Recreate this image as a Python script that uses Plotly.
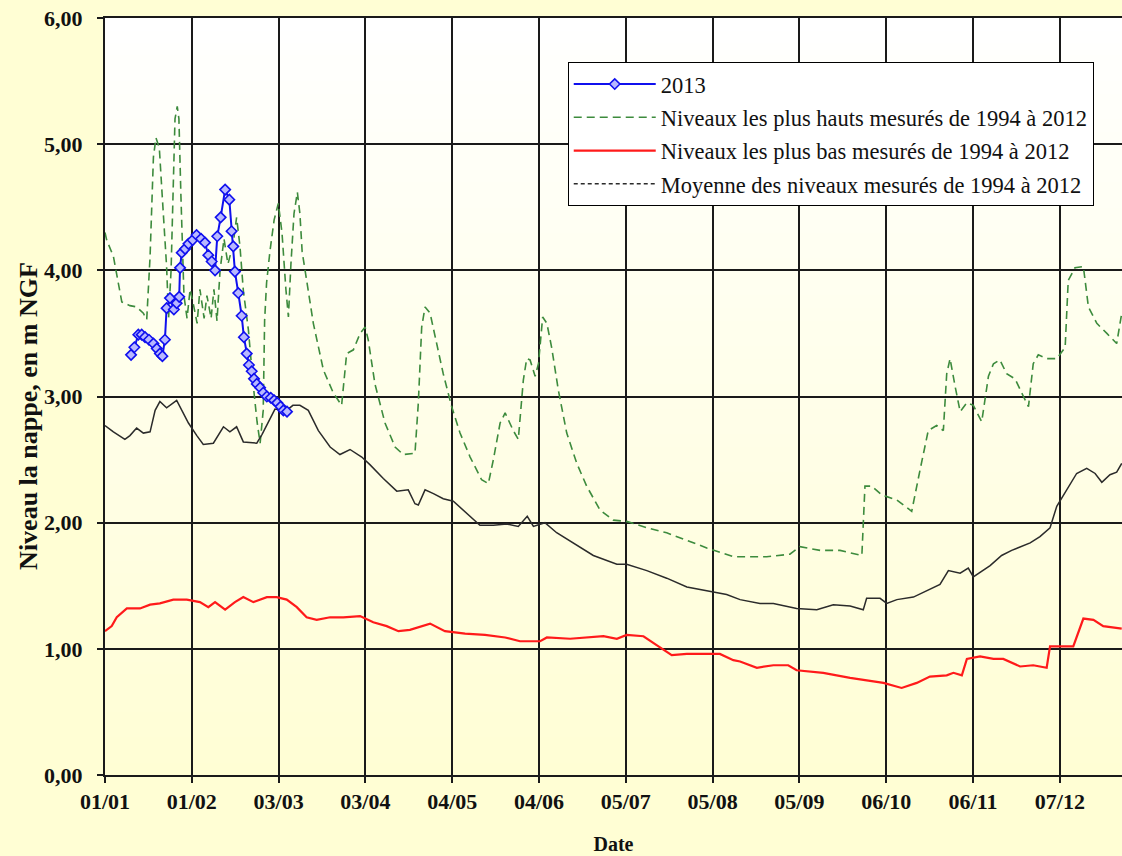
import plotly.graph_objects as go

# Axis ticks (day of year, 31-day steps) and their labels
tick_days = [0, 31, 62, 93, 124, 155, 186, 217, 248, 279, 310, 341]
tick_labels = ["01/01", "01/02", "03/03", "03/04", "04/05", "04/06",
               "05/07", "05/08", "05/09", "06/10", "06/11", "07/12"]

# 2013 measurements
y2013_day = [9.3, 10.5, 11.9, 13.1, 14.3, 15.7, 17.3, 18.5, 19.6, 20.5, 21.4, 22.0,
             23.2, 24.6, 25.6, 26.5, 26.8, 27.4, 28.6, 29.8, 31.3, 32.7, 34.3, 35.7,
             36.9, 38.1, 39.3, 40.1, 41.3, 42.9, 44.4, 45.2, 45.8, 46.4, 47.6, 48.8,
             49.6, 50.6, 51.4, 52.4, 53.2, 54.2, 55.4, 56.5, 57.8, 59.2, 60.4, 61.5,
             62.7, 63.7, 65.0]
y2013_val = [3.33, 3.39, 3.49, 3.49, 3.47, 3.45, 3.42, 3.38, 3.34, 3.32, 3.45, 3.70,
             3.78, 3.69, 3.74, 3.79, 4.02, 4.14, 4.17, 4.21, 4.24, 4.28, 4.25, 4.22,
             4.12, 4.07, 4.00, 4.27, 4.42, 4.64, 4.56, 4.31, 4.19, 3.99, 3.82, 3.64,
             3.47, 3.34, 3.25, 3.20, 3.14, 3.10, 3.07, 3.03, 3.00, 2.99, 2.97, 2.95,
             2.92, 2.89, 2.88]

# Highest levels 1994-2012
high_day = [0, 0.6, 3.0, 4.8, 6.0, 8.9, 11.3, 13.7, 14.9, 16.1, 17.3, 18.2, 19.4,
            20.3, 21.4, 22.0, 22.7, 23.6, 24.3, 25.0, 25.8, 26.4, 27.1, 27.9, 28.2,
            29.3, 30.4, 31.4, 32.9, 33.9, 35.4, 36.4, 37.9, 38.9, 40.0, 41.1, 42.5,
            43.9, 45.7, 47.0, 48.2, 49.4, 51.2, 52.9, 54.3, 55.4, 56.5, 57.0, 57.7,
            58.9, 60.4, 61.9, 63.2, 64.6, 65.5, 66.4, 67.5, 68.7, 69.6, 70.4, 71.4,
            74.4, 78.0, 81.5, 84.5, 86.3, 88.7, 91.1, 92.9, 94.0, 96.4, 100.0, 103.6,
            106.5, 110.7, 111.9, 113.1, 114.3, 116.1, 118.5, 120.8, 123.8, 126.8,
            130.4, 134.5, 136.9, 138.7, 141.1, 142.9, 145.8, 147.6, 149.4, 150.6,
            151.8, 153.6, 154.8, 156.3, 157.8, 159.5, 161.9, 164.9, 168.5, 172.0,
            176.8, 181.5, 186.3, 193.5, 200.6, 207.8, 214.9, 224.4, 236.3, 244.6,
            248.2, 255.4, 262.5, 270.3, 271.4, 273.8, 277.4, 282.8, 288.1, 291.1,
            294.0, 297.0, 299.4, 300.6, 301.8, 303.6, 305.4, 307.8, 310.1, 313.1,
            315.5, 317.3, 319.6, 322.0, 325.0, 328.0, 329.8, 331.5, 333.3, 336.3,
            339.9, 342.9, 344.0, 346.4, 349.4, 351.2, 354.2, 357.8, 361.3, 363.1]
high_val = [4.30, 4.24, 4.11, 3.90, 3.75, 3.72, 3.71, 3.66, 3.61, 4.11, 4.90, 5.05, 4.97,
            4.64, 4.24, 4.03, 3.62, 4.00, 4.60, 5.20, 5.30, 5.20, 4.60, 3.90, 3.80,
            3.62, 3.85, 3.75, 3.58, 3.85, 3.62, 3.80, 3.62, 3.85, 3.60, 4.00, 4.25,
            4.05, 4.20, 4.42, 4.19, 3.84, 3.53, 3.10, 2.80, 2.63, 2.89, 3.60, 3.90,
            4.15, 4.40, 4.53, 4.30, 3.85, 3.63, 4.05, 4.45, 4.62, 4.45, 4.15, 4.00,
            3.58, 3.21, 3.03, 2.93, 3.34, 3.37, 3.50, 3.55, 3.45, 3.10, 2.79, 2.60,
            2.54, 2.55, 2.95, 3.55, 3.71, 3.66, 3.42, 3.18, 2.92, 2.71,
            2.52, 2.34, 2.31, 2.50, 2.79, 2.87, 2.73, 2.66, 3.13, 3.30,
            3.29, 3.16, 3.26, 3.63, 3.58, 3.39, 3.05, 2.71, 2.47, 2.29,
            2.10, 2.02, 2.01, 1.96, 1.92, 1.86, 1.80, 1.73, 1.73, 1.75,
            1.81, 1.78, 1.78, 1.74, 2.29, 2.29, 2.22, 2.18, 2.09, 2.42,
            2.73, 2.77, 2.73, 3.18, 3.30, 3.08, 2.88, 2.95, 2.93, 2.80,
            3.16, 3.26, 3.29, 3.18, 3.14, 3.00, 2.92, 3.26, 3.33, 3.30,
            3.30, 3.39, 3.92, 4.02, 4.03, 3.71, 3.58, 3.50, 3.42, 3.66]

# Lowest levels 1994-2012
low_day = [0, 2.4, 4.2, 7.8, 12.5, 16.1, 19.6, 24.4, 29.2, 33.9, 36.9, 39.3, 42.9,
           46.4, 49.4, 53.0, 57.8, 61.3, 64.9, 68.5, 72.0, 75.6, 80.4, 85.1, 91.1,
           95.8, 100.6, 104.8, 108.9, 116.1, 121.4, 128.6, 135.7, 142.9, 148.2,
           155.4, 157.8, 166.1, 178.0, 182.8, 186.3, 192.3, 197.0, 202.4, 207.8,
           212.5, 219.6, 224.4, 226.8, 232.8, 238.7, 244.0, 247.0, 256.5, 266.1,
           278.0, 284.5, 289.9, 294.6, 300.6, 303.0, 306.0, 307.8, 312.5, 317.3,
           320.8, 326.8, 331.5, 336.3, 337.5, 345.8, 349.4, 353.0, 356.5, 363.1]
low_val = [1.14, 1.18, 1.25, 1.32, 1.32, 1.35, 1.36, 1.39, 1.39, 1.37, 1.33, 1.37, 1.31,
           1.37, 1.41, 1.37, 1.41, 1.41, 1.39, 1.33, 1.25, 1.23, 1.25, 1.25, 1.26,
           1.21, 1.18, 1.14, 1.15, 1.20, 1.14, 1.12, 1.11, 1.09, 1.06,
           1.06, 1.09, 1.08, 1.10, 1.08, 1.11, 1.10, 1.03, 0.95, 0.96,
           0.96, 0.96, 0.91, 0.90, 0.85, 0.87, 0.87, 0.83, 0.81, 0.77,
           0.73, 0.69, 0.73, 0.78, 0.79, 0.81, 0.79, 0.92, 0.94, 0.92,
           0.92, 0.86, 0.87, 0.85, 1.02, 1.02, 1.24, 1.23, 1.18, 1.16]

# Mean levels 1994-2012
mean_day = [0, 3.0, 7.1, 8.9, 11.3, 13.7, 16.1, 17.9, 19.6, 22.0, 25.6, 27.4, 29.8,
            32.8, 35.1, 38.7, 42.3, 44.6, 47.0, 49.4, 54.2, 56.1, 60.7, 64.9, 67.1,
            69.6, 72.6, 76.2, 80.4, 83.9, 87.5, 91.7, 94.6, 99.4, 104.2, 108.3,
            110.7, 111.9, 114.3, 117.3, 120.8, 124.4, 129.2, 133.9, 138.7, 143.5,
            147.6, 150.8, 153.0, 157.1, 161.3, 167.3, 174.4, 182.8, 186.3, 193.5,
            200.6, 207.8, 212.5, 217.3, 222.0, 226.8, 233.9, 238.7, 247.0, 254.2,
            260.1, 266.1, 270.8, 272.0, 276.8, 279.2, 282.8, 288.7, 294.6, 298.2,
            301.2, 305.4, 308.3, 310.1, 316.1, 320.2, 323.8, 326.2, 330.4, 333.9,
            337.5, 339.9, 343.5, 347.0, 350.6, 353.6, 356.0, 358.9, 361.3, 363.1]
mean_val = [2.77, 2.72, 2.66, 2.69, 2.75, 2.71, 2.72, 2.89, 2.96, 2.91, 2.97, 2.89, 2.79,
            2.69, 2.62, 2.63, 2.76, 2.72, 2.76, 2.64, 2.63, 2.70, 2.90, 2.89, 2.93,
            2.93, 2.89, 2.73, 2.60, 2.54, 2.58, 2.52, 2.46, 2.35, 2.25, 2.26,
            2.15, 2.14, 2.26, 2.23, 2.19, 2.17, 2.07, 1.98, 1.98, 1.99,
            1.97, 2.05, 1.97, 2.00, 1.92, 1.84, 1.74, 1.67, 1.67, 1.62,
            1.56, 1.49, 1.47, 1.45, 1.43, 1.39, 1.36, 1.36, 1.32, 1.31,
            1.35, 1.34, 1.31, 1.40, 1.40, 1.36, 1.39, 1.41, 1.47, 1.51,
            1.62, 1.60, 1.64, 1.57, 1.66, 1.74, 1.78, 1.80, 1.84, 1.89,
            1.96, 2.13, 2.26, 2.39, 2.43, 2.39, 2.32, 2.38, 2.40, 2.47]

BG = (255, 254, 212)
SERIF = "Liberation Serif, Times New Roman, serif"

fig = go.Figure()

fig.add_trace(go.Scatter(
    x=high_day, y=high_val, mode="lines", name="Niveaux les plus hauts mesurés de 1994 à 2012",
    line=dict(color="#3d8b3d", width=1.6, dash="8px,5px"),
    legendgroup="g2", legendrank=2))
fig.add_trace(go.Scatter(
    x=low_day, y=low_val, mode="lines", name="Niveaux les plus bas mesurés de 1994 à 2012",
    line=dict(color="#ff1a1a", width=2.2),
    legendgroup="g3", legendrank=3))
fig.add_trace(go.Scatter(
    x=mean_day, y=mean_val, mode="lines", name="Moyenne des niveaux mesurés de 1994 à 2012",
    line=dict(color="#2b2b2b", width=1.5),
    legendgroup="g4", showlegend=False))
# legend entry for the mean curve, drawn with short dashes
fig.add_trace(go.Scatter(
    x=[None], y=[None], mode="lines", name="Moyenne des niveaux mesurés de 1994 à 2012",
    line=dict(color="#2b2b2b", width=1.5, dash="4px,3px"),
    legendgroup="g4", legendrank=4))
fig.add_trace(go.Scatter(
    x=y2013_day, y=y2013_val, mode="lines+markers", name="2013",
    line=dict(color="#1010ee", width=2),
    marker=dict(symbol="diamond", size=8, color="#b8b8ff",
                line=dict(color="#1010ee", width=1.6)),
    legendgroup="g1", legendrank=1))

# plot-area background: white at the top fading to pale yellow at the bottom
n_bands = 60
for i in range(n_bands):
    t = (i + 0.5) / n_bands
    r = round(BG[0] + (255 - BG[0]) * t)
    g = round(BG[1] + (255 - BG[1]) * t)
    b = round(BG[2] + (255 - BG[2]) * t)
    fig.add_shape(type="rect", xref="x domain", yref="y domain",
                  x0=0, x1=1, y0=i / n_bands, y1=(i + 1) / n_bands + 0.002,
                  fillcolor=f"rgb({r},{g},{b})", line=dict(width=0), layer="below")

# vertical axis title, placed slightly below the plot's mid-height
fig.add_annotation(
    text="<b>Niveau la nappe, en m NGF</b>", textangle=-90,
    xref="paper", yref="paper", x=-0.076, y=0.474,
    xanchor="center", yanchor="middle", showarrow=False,
    font=dict(family=SERIF, size=26, color="#111"))

fig.update_layout(
    width=1122, height=856,
    margin=dict(l=105, r=0, t=18, b=81),
    paper_bgcolor=f"rgb{BG}",
    plot_bgcolor=f"rgb{BG}",
    separators=", ",
    font=dict(family=SERIF, color="black"),
    showlegend=True,
    legend=dict(
        x=0.455, y=0.942, xanchor="left", yanchor="top",
        bgcolor="white", bordercolor="black", borderwidth=1,
        font=dict(family=SERIF, size=22.5, color="#111"),
        traceorder="grouped", tracegroupgap=1, itemwidth=82,
    ),
)

fig.update_xaxes(
    range=[0, 363.2], tickmode="array", tickvals=tick_days,
    ticktext=[f"<b>{t}</b>" for t in tick_labels],
    showgrid=True, gridcolor="#1a1a1a", gridwidth=1.6,
    ticks="outside", ticklen=6, tickwidth=2, tickcolor="#1a1a1a",
    showline=True, linecolor="#1a1a1a", linewidth=2, mirror=True,
    zeroline=False,
    tickfont=dict(family=SERIF, size=22, color="#111"),
    title=dict(text="<b>Date</b>", font=dict(family=SERIF, size=20, color="#111"), standoff=24),
)
fig.update_yaxes(
    range=[0, 6], dtick=1, tickformat=".2f",
    tickprefix="<b>", ticksuffix="</b>",
    showgrid=True, gridcolor="#1a1a1a", gridwidth=1.6,
    ticks="outside", ticklen=6, tickwidth=2, tickcolor="#1a1a1a",
    showline=True, linecolor="#1a1a1a", linewidth=2,
    zeroline=False, ticklabelstandoff=10,
    tickfont=dict(family=SERIF, size=22, color="#111"),
)

fig.write_html("out.html")
